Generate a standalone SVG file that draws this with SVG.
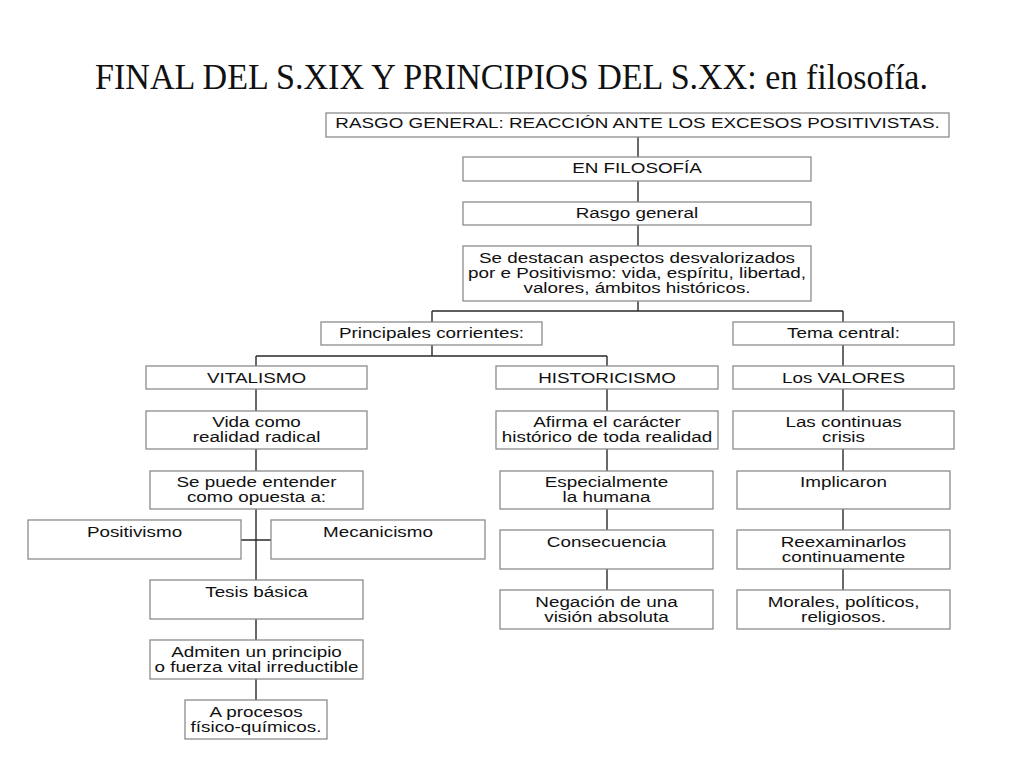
<svg xmlns="http://www.w3.org/2000/svg" width="1024" height="768" viewBox="0 0 1024 768">
<style>
.bg{fill:#ffffff}
.box{fill:#ffffff;stroke:#8c8c8c;stroke-width:1.3}
.lbl{font-family:"Liberation Sans",Arial,sans-serif;font-size:14.5px;fill:#111;text-anchor:middle}
.title{font-family:"Liberation Serif","Times New Roman",serif;font-size:36px;fill:#111;text-anchor:middle}
.con{stroke:#2a2a2a;stroke-width:1.4;fill:none}
</style>
<rect class="bg" x="0" y="0" width="1024" height="768"/>
<text class="title" x="511.5" y="89" textLength="833" lengthAdjust="spacingAndGlyphs">FINAL DEL S.XIX Y PRINCIPIOS DEL S.XX: en filosofía.</text>

<g id="connectors">
<path class="con" d="M638 137V157M638 181V202M638 225V246M638 301V311M432 311H843M432 311V322M843 311V322"/>
<path class="con" d="M432 345V356M256 356H607M256 356V366M607 356V366"/>
<path class="con" d="M256 389V411M256 449V471M256 509V580M241 540H271M256 619V640M256 679V700"/>
<path class="con" d="M607 389V411M607 449V471M607 509V530M607 569V590"/>
<path class="con" d="M843 345V366M843 389V411M843 449V471M843 509V530M843 569V590"/>
</g>

<g id="n-rasgo-general-top"><rect class="box" x="326" y="113" width="623" height="24"/><text class="lbl" transform="translate(637.5 128) scale(1.3 1)">RASGO GENERAL: REACCIÓN ANTE LOS EXCESOS POSITIVISTAS.</text></g>
<g id="n-en-filosofia"><rect class="box" x="463" y="157" width="348" height="24"/><text class="lbl" transform="translate(637 173) scale(1.3 1)">EN FILOSOFÍA</text></g>
<g id="n-rasgo-general"><rect class="box" x="463" y="202" width="348" height="23"/><text class="lbl" transform="translate(637 218) scale(1.3 1)">Rasgo general</text></g>
<g id="n-se-destacan"><rect class="box" x="463" y="246" width="348" height="55"/>
<text class="lbl" transform="translate(637 263) scale(1.3 1)">Se destacan aspectos desvalorizados</text>
<text class="lbl" transform="translate(637 278) scale(1.3 1)">por e Positivismo: vida, espíritu, libertad,</text>
<text class="lbl" transform="translate(637 293) scale(1.3 1)">valores, ámbitos históricos.</text></g>
<g id="n-principales"><rect class="box" x="321" y="322" width="221" height="23"/><text class="lbl" transform="translate(431.5 338) scale(1.3 1)">Principales corrientes:</text></g>
<g id="n-tema-central"><rect class="box" x="733" y="322" width="221" height="23"/><text class="lbl" transform="translate(843.5 338) scale(1.3 1)">Tema central:</text></g>

<g id="n-vitalismo"><rect class="box" x="146" y="366" width="221" height="23"/><text class="lbl" transform="translate(256.5 383) scale(1.3 1)">VITALISMO</text></g>
<g id="n-vida"><rect class="box" x="146" y="411" width="221" height="38"/><text class="lbl" transform="translate(256.5 427) scale(1.3 1)">Vida como</text><text class="lbl" transform="translate(256.5 442) scale(1.3 1)">realidad radical</text></g>
<g id="n-se-puede"><rect class="box" x="150" y="471" width="213" height="38"/><text class="lbl" transform="translate(256.5 487) scale(1.3 1)">Se puede entender</text><text class="lbl" transform="translate(256.5 502) scale(1.3 1)">como opuesta a:</text></g>
<g id="n-positivismo"><rect class="box" x="28" y="520" width="213" height="39"/><text class="lbl" transform="translate(134.5 537) scale(1.3 1)">Positivismo</text></g>
<g id="n-mecanicismo"><rect class="box" x="271" y="520" width="214" height="39"/><text class="lbl" transform="translate(378 537) scale(1.3 1)">Mecanicismo</text></g>
<g id="n-tesis"><rect class="box" x="150" y="580" width="213" height="39"/><text class="lbl" transform="translate(256.5 597) scale(1.3 1)">Tesis básica</text></g>
<g id="n-admiten"><rect class="box" x="150" y="640" width="213" height="39"/><text class="lbl" transform="translate(256.5 657) scale(1.3 1)">Admiten un principio</text><text class="lbl" transform="translate(256.5 672) scale(1.3 1)">o fuerza vital irreductible</text></g>
<g id="n-procesos"><rect class="box" x="185" y="700" width="142" height="39"/><text class="lbl" transform="translate(256 717) scale(1.3 1)">A procesos</text><text class="lbl" transform="translate(256 732) scale(1.3 1)">físico-químicos.</text></g>

<g id="n-historicismo"><rect class="box" x="496" y="366" width="222" height="23"/><text class="lbl" transform="translate(607 383) scale(1.3 1)">HISTORICISMO</text></g>
<g id="n-afirma"><rect class="box" x="496" y="411" width="222" height="38"/><text class="lbl" transform="translate(607 427) scale(1.3 1)">Afirma el carácter</text><text class="lbl" transform="translate(607 442) scale(1.3 1)">histórico de toda realidad</text></g>
<g id="n-especialmente"><rect class="box" x="500" y="471" width="213" height="38"/><text class="lbl" transform="translate(606.5 487) scale(1.3 1)">Especialmente</text><text class="lbl" transform="translate(606.5 502) scale(1.3 1)">la humana</text></g>
<g id="n-consecuencia"><rect class="box" x="500" y="530" width="213" height="39"/><text class="lbl" transform="translate(606.5 547) scale(1.3 1)">Consecuencia</text></g>
<g id="n-negacion"><rect class="box" x="500" y="590" width="213" height="39"/><text class="lbl" transform="translate(606.5 607) scale(1.3 1)">Negación de una</text><text class="lbl" transform="translate(606.5 622) scale(1.3 1)">visión absoluta</text></g>

<g id="n-valores"><rect class="box" x="733" y="366" width="221" height="23"/><text class="lbl" transform="translate(843.5 383) scale(1.3 1)">Los VALORES</text></g>
<g id="n-crisis"><rect class="box" x="733" y="411" width="221" height="38"/><text class="lbl" transform="translate(843.5 427) scale(1.3 1)">Las continuas</text><text class="lbl" transform="translate(843.5 442) scale(1.3 1)">crisis</text></g>
<g id="n-implicaron"><rect class="box" x="737" y="471" width="213" height="38"/><text class="lbl" transform="translate(843.5 487) scale(1.3 1)">Implicaron</text></g>
<g id="n-reexaminarlos"><rect class="box" x="737" y="530" width="213" height="39"/><text class="lbl" transform="translate(843.5 547) scale(1.3 1)">Reexaminarlos</text><text class="lbl" transform="translate(843.5 562) scale(1.3 1)">continuamente</text></g>
<g id="n-morales"><rect class="box" x="737" y="590" width="213" height="39"/><text class="lbl" transform="translate(843.5 607) scale(1.3 1)">Morales, políticos,</text><text class="lbl" transform="translate(843.5 622) scale(1.3 1)">religiosos.</text></g>
</svg>
